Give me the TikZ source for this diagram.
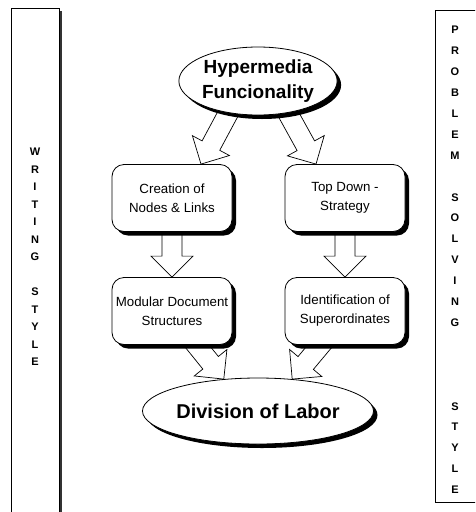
\documentclass[tikz,border=0pt]{standalone}
\usepackage{fontspec}
\setmainfont{Liberation Sans}
\usetikzlibrary{calc,shadows,shapes.geometric,backgrounds}

\tikzset{
  blackshadow/.style={drop shadow={shadow xshift=4pt,shadow yshift=-4pt,fill=black,opacity=1}},
  goal/.style={ellipse, draw, line width=0.8pt, fill=white, minimum width=146pt,
    minimum height=68pt, inner sep=0pt, align=center,
    font=\bfseries\fontsize{19}{25}\selectfont, blackshadow},
  stage/.style={rectangle, rounded corners=12pt, draw, line width=0.8pt, fill=white,
    minimum width=120pt, minimum height=67pt, inner sep=0pt, align=center,
    font=\fontsize{13.3}{19}\selectfont, blackshadow},
  strip/.style={draw, line width=0.6pt, fill=white},
  letters/.style={align=center, inner sep=0pt},
  hollowarrow/.style={draw, line width=0.7pt, fill=white, line join=miter},
}

% wide white block arrow from coordinate #1 (tail) to coordinate #2 (tip)
\newcommand\blockarrow[2]{%
  \coordinate (arrowneck) at ($(#2)!21pt!(#1)$);
  \draw[hollowarrow] ($(#1)!10pt!90:(#2)$) -- ($(arrowneck)!10pt!90:(#2)$)
    -- ($(arrowneck)!21pt!90:(#2)$) -- (#2) -- ($(arrowneck)!21pt!-90:(#2)$)
    -- ($(arrowneck)!10pt!-90:(#2)$) -- ($(#1)!10pt!-90:(#2)$) -- cycle;
}

\begin{document}
\begin{tikzpicture}[x=1pt,y=-1pt]
\clip (0,0) rectangle (475,512);

% side strips
\path[strip, drop shadow={shadow xshift=3pt,shadow yshift=-3pt,fill=black!80,opacity=1}]
  (11,8) rectangle (59,530);
\path[strip] (435,10) rectangle (490,502);
\node[letters, font=\bfseries\fontsize{11}{17.5}\selectfont] (ws) at (35,257)
  {W\\R\\I\\T\\I\\N\\G\\~\\S\\T\\Y\\L\\E};
\node[letters, font=\bfseries\fontsize{11}{20.9}\selectfont] (ps) at (455,260)
  {P\\R\\O\\B\\L\\E\\M\\~\\S\\O\\L\\V\\I\\N\\G\\~\\~\\~\\S\\T\\Y\\L\\E};

% flow nodes
\node[goal] (hf) at (258,81) {Hypermedia\\Funcionality};
\node[stage] (cn) at (172,198) {Creation of\\Nodes \& Links};
\node[stage] (td) at (345,198) {Top Down -\\Strategy};
\node[stage] (md) at (172,311) {Modular Document\\Structures};
\node[stage] (is) at (345,311) {Identification of\\Superordinates};
\node[goal, minimum width=182pt, minimum height=66pt,
  font=\bfseries\fontsize{20}{25}\selectfont] (dl) at (258,411) {Division of Labor};

% connection points
\coordinate (hf-l) at ($(hf.center)!0.7!(hf.222)$);
\coordinate (hf-r) at ($(hf.center)!0.7!(hf.318)$);
\coordinate (cn-in) at ($(cn.north west)!0.74!(cn.north east)$);
\coordinate (td-in) at ($(td.north west)!0.26!(td.north east)$);
\coordinate (md-out) at ($(md.south west)!0.70!(md.south east)$);
\coordinate (is-out) at ($(is.south west)!0.30!(is.south east)$);
\coordinate (md-t) at ($(dl.137)!1.3!(md-out)$);
\coordinate (is-t) at ($(dl.43)!1.3!(is-out)$);

% block arrows, kept behind the nodes
\begin{scope}[on background layer]
  \blockarrow{hf-l}{cn-in}
  \blockarrow{hf-r}{td-in}
  \blockarrow{cn.center}{md.north}
  \blockarrow{td.center}{is.north}
  \blockarrow{md-t}{dl.137}
  \blockarrow{is-t}{dl.43}
\end{scope}
\end{tikzpicture}
\end{document}
